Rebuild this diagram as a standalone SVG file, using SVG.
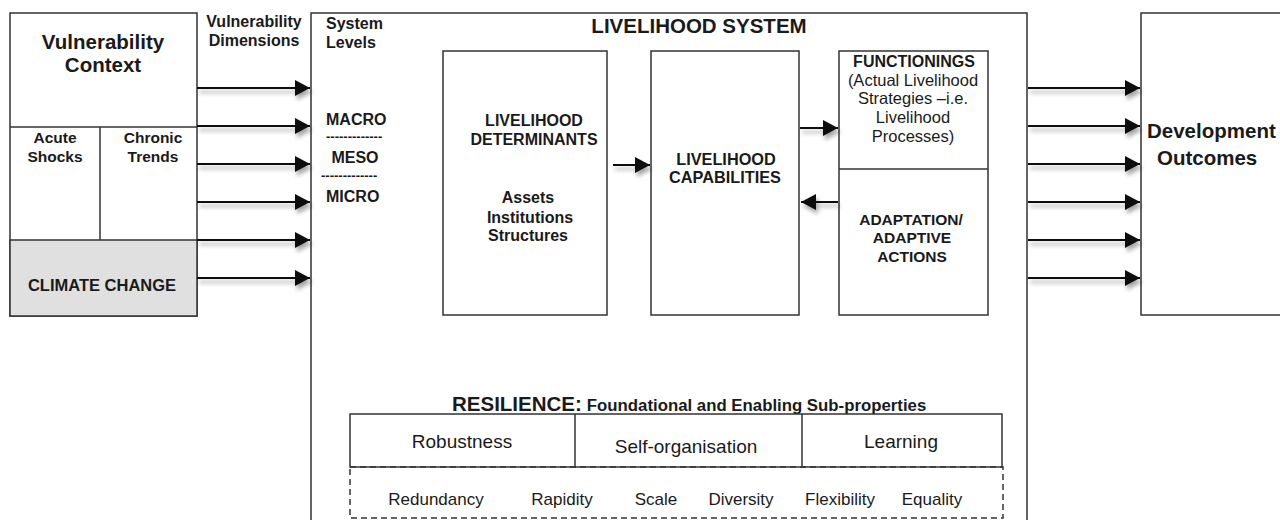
<svg xmlns="http://www.w3.org/2000/svg" width="1280" height="520" viewBox="0 0 1280 520">
<style>
  .box{fill:#fff;stroke:#333;stroke-width:1.5}
  .ln{stroke:#333;stroke-width:1.5;fill:none}
  .b{font-family:"Liberation Sans",Arial,sans-serif;font-weight:bold;fill:#1a1a1a}
  .r{font-family:"Liberation Sans",Arial,sans-serif;fill:#1a1a1a}
  .c{text-anchor:middle}
  .arr{stroke:#111;stroke-width:2;fill:none;marker-end:url(#ah)}
</style>
<defs>
  <marker id="ah" markerUnits="userSpaceOnUse" markerWidth="16" markerHeight="16" refX="15" refY="8" orient="auto">
    <path d="M0,0 L15,8 L0,16 z" fill="#111"/>
  </marker>
  <filter id="sh" x="-10%" y="-50%" width="130%" height="300%">
    <feDropShadow dx="2" dy="4" stdDeviation="2" flood-color="#000" flood-opacity="0.35"/>
  </filter>
</defs>
<rect width="1280" height="520" fill="#fff"/>

<g id="vulnerability-context">
  <rect class="box" x="10" y="13" width="187" height="303"/>
  <rect x="10" y="240" width="187" height="76" fill="#e0e0e0" stroke="#333" stroke-width="1.5"/>
  <line class="ln" x1="10" y1="127" x2="197" y2="127"/>
  <line class="ln" x1="100" y1="127" x2="100" y2="240"/>
  <text class="b c" x="103" y="49" font-size="20.5">Vulnerability</text>
  <text class="b c" x="103" y="72" font-size="20.5">Context</text>
  <text class="b c" x="55" y="143" font-size="15.5">Acute</text>
  <text class="b c" x="55" y="162" font-size="15.5">Shocks</text>
  <text class="b c" x="153" y="143" font-size="15.5">Chronic</text>
  <text class="b c" x="153" y="162" font-size="15.5">Trends</text>
  <text class="b c" x="102" y="291" font-size="16.5">CLIMATE CHANGE</text>
</g>

<g id="vulnerability-dimensions">
  <text class="b c" x="254" y="27" font-size="16">Vulnerability</text>
  <text class="b c" x="254" y="46" font-size="16">Dimensions</text>
</g>

<g id="livelihood-system">
  <rect class="box" x="311" y="13" width="716" height="600"/>
  <text class="b c" x="699" y="33" font-size="20.5">LIVELIHOOD SYSTEM</text>
  <text class="b" x="326" y="29" font-size="16">System</text>
  <text class="b" x="326" y="48" font-size="16">Levels</text>
  <text class="b" x="326" y="125" font-size="16">MACRO</text>
  <text class="b" x="326" y="141" font-size="13">-------------</text>
  <text class="b c" x="355" y="163" font-size="16">MESO</text>
  <text class="b" x="321" y="180" font-size="13">-------------</text>
  <text class="b" x="326" y="202" font-size="16">MICRO</text>
</g>

<g id="livelihood-determinants">
  <rect class="box" x="443" y="51" width="164" height="264"/>
  <text class="b c" x="534" y="126" font-size="16">LIVELIHOOD</text>
  <text class="b c" x="534" y="145" font-size="16">DETERMINANTS</text>
  <text class="b c" x="528" y="203" font-size="16">Assets</text>
  <text class="b c" x="530" y="223" font-size="16">Institutions</text>
  <text class="b c" x="528" y="241" font-size="16">Structures</text>
</g>

<g id="livelihood-capabilities">
  <rect class="box" x="651" y="51" width="148" height="264"/>
  <text class="b c" x="726" y="165" font-size="16.3">LIVELIHOOD</text>
  <text class="b c" x="725" y="183" font-size="16.3">CAPABILITIES</text>
</g>

<g id="functionings">
  <rect class="box" x="839" y="51" width="149" height="264"/>
  <line class="ln" x1="839" y1="169" x2="988" y2="169"/>
  <text class="b c" x="914" y="67" font-size="16">FUNCTIONINGS</text>
  <text class="r c" x="913" y="86" font-size="16.5">(Actual Livelihood</text>
  <text class="r c" x="913" y="104" font-size="16.5">Strategies –i.e.</text>
  <text class="r c" x="913" y="123" font-size="16.5">Livelihood</text>
  <text class="r c" x="913" y="142" font-size="16.5">Processes)</text>
</g>

<g id="adaptation">
  <text class="b c" x="911" y="225" font-size="15.5">ADAPTATION/</text>
  <text class="b c" x="912" y="243" font-size="15.5">ADAPTIVE</text>
  <text class="b c" x="912" y="262" font-size="15.5">ACTIONS</text>
</g>

<g id="development-outcomes">
  <rect class="box" x="1141" y="13" width="170" height="302"/>
  <text class="b" x="1147" y="138" font-size="20.5">Development</text>
  <text class="b" x="1157" y="165" font-size="20.5">Outcomes</text>
</g>

<g id="resilience">
  <text x="452" y="411"><tspan class="b" font-size="20.5">RESILIENCE:</tspan><tspan class="b" font-size="16.8" dx="5">Foundational and Enabling Sub-properties</tspan></text>
  <rect class="box" x="350" y="414" width="652" height="53"/>
  <line class="ln" x1="575" y1="414" x2="575" y2="467"/>
  <line class="ln" x1="802" y1="414" x2="802" y2="467"/>
  <text class="r c" x="462" y="448" font-size="19">Robustness</text>
  <text class="r c" x="686" y="453" font-size="19">Self-organisation</text>
  <text class="r c" x="901" y="448" font-size="19">Learning</text>
  <rect x="350" y="467" width="653" height="51" fill="none" stroke="#333" stroke-width="1.5" stroke-dasharray="6,4"/>
  <text class="r c" x="436" y="505" font-size="17">Redundancy</text>
  <text class="r c" x="562" y="505" font-size="17">Rapidity</text>
  <text class="r c" x="656" y="505" font-size="17">Scale</text>
  <text class="r c" x="741" y="505" font-size="17">Diversity</text>
  <text class="r c" x="840" y="505" font-size="17">Flexibility</text>
  <text class="r c" x="932" y="505" font-size="17">Equality</text>
</g>

<g id="connectors" filter="url(#sh)">
  <line class="arr" x1="197" y1="88" x2="310" y2="88"/>
  <line class="arr" x1="197" y1="126" x2="310" y2="126"/>
  <line class="arr" x1="197" y1="164" x2="310" y2="164"/>
  <line class="arr" x1="197" y1="202" x2="310" y2="202"/>
  <line class="arr" x1="197" y1="240" x2="310" y2="240"/>
  <line class="arr" x1="197" y1="278" x2="310" y2="278"/>
  <line class="arr" x1="613" y1="165" x2="650" y2="165"/>
  <line class="arr" x1="800" y1="128" x2="838" y2="128"/>
  <line class="arr" x1="838" y1="202" x2="801" y2="202"/>
  <line class="arr" x1="1028" y1="88" x2="1140" y2="88"/>
  <line class="arr" x1="1028" y1="126" x2="1140" y2="126"/>
  <line class="arr" x1="1028" y1="164" x2="1140" y2="164"/>
  <line class="arr" x1="1028" y1="202" x2="1140" y2="202"/>
  <line class="arr" x1="1028" y1="240" x2="1140" y2="240"/>
  <line class="arr" x1="1028" y1="278" x2="1140" y2="278"/>
</g>
</svg>
